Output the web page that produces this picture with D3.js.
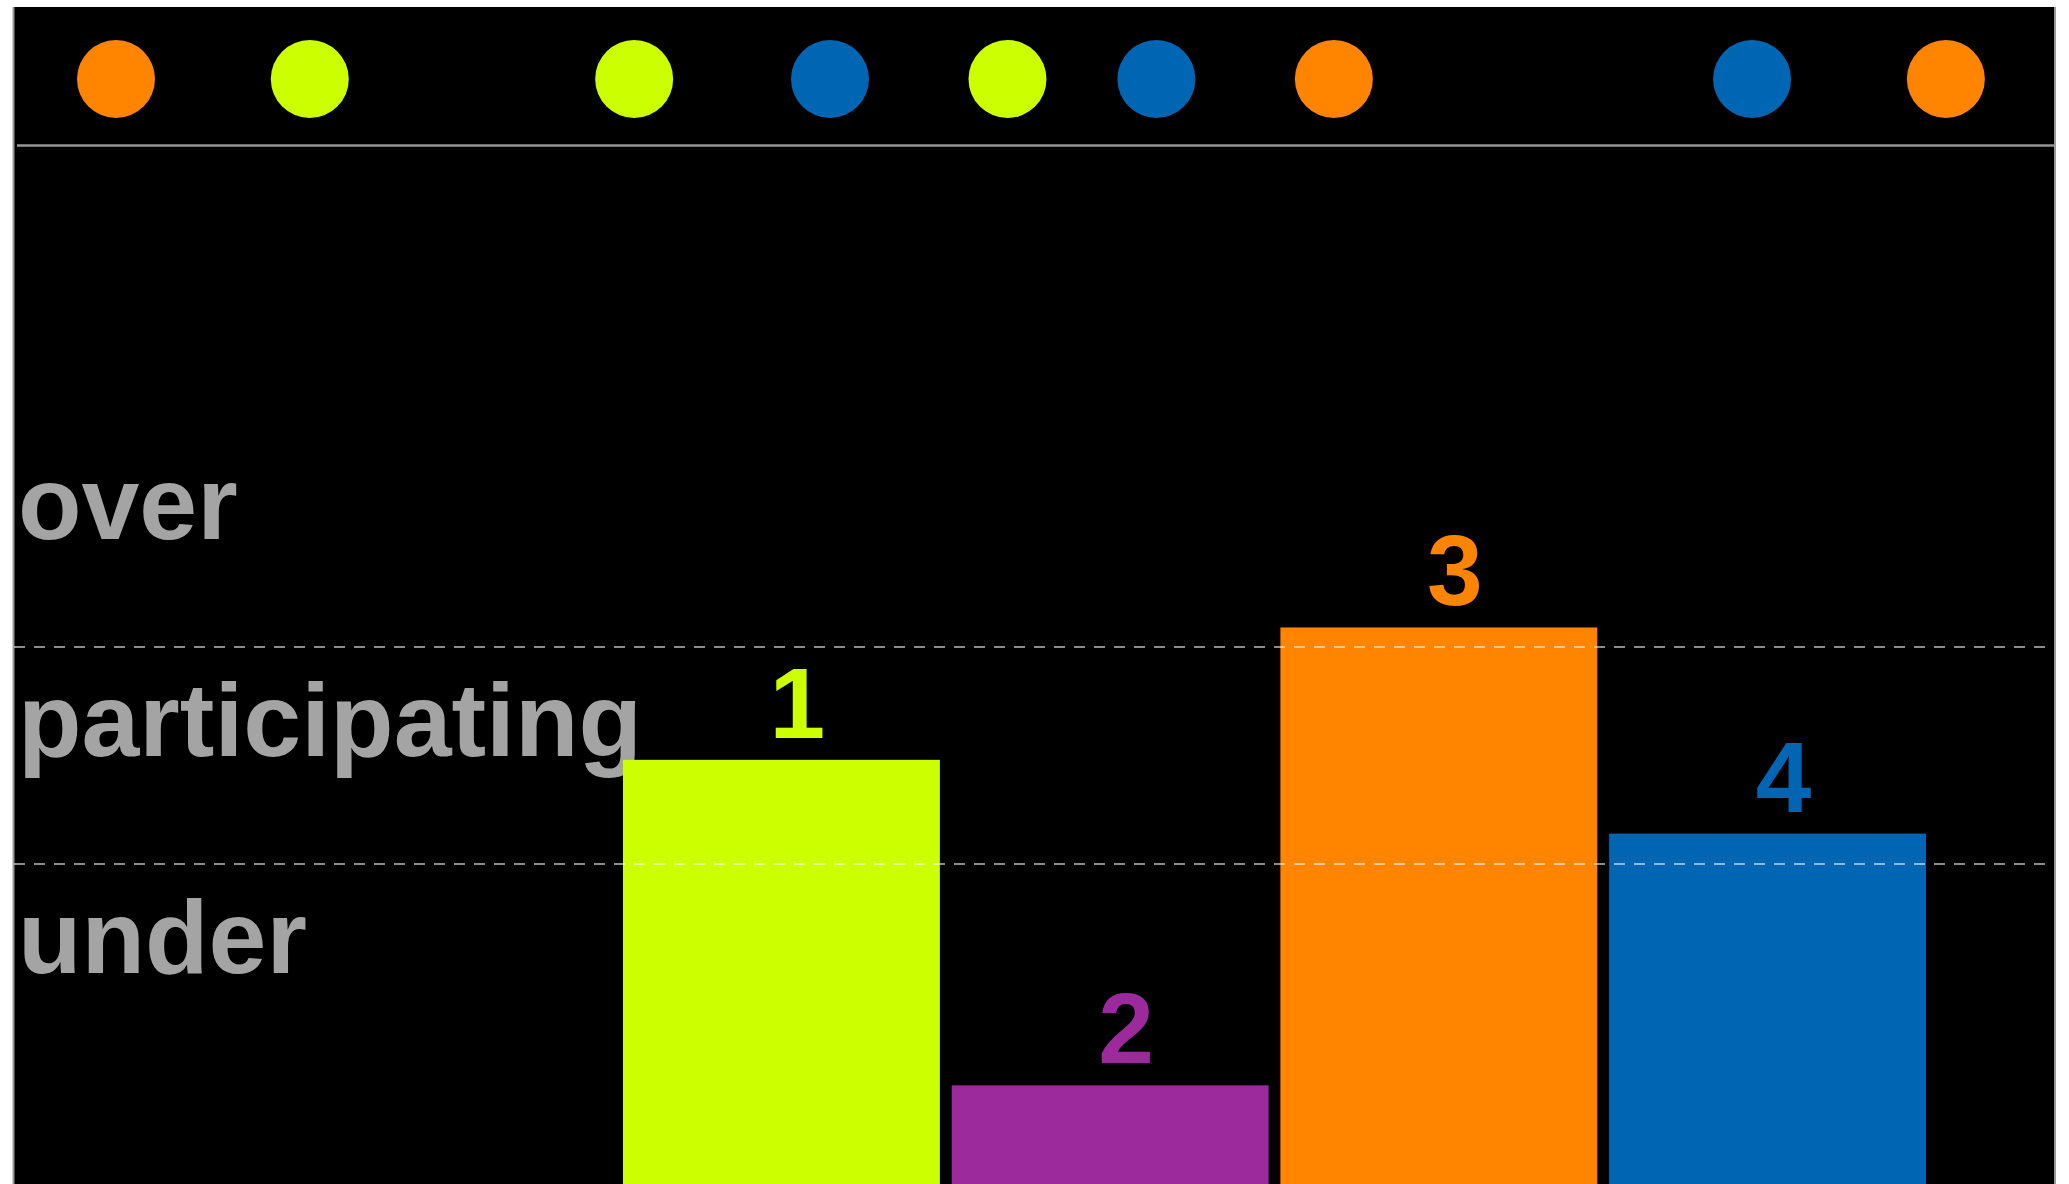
<!DOCTYPE html>
<html>
<head>
<meta charset="utf-8">
<script src="https://cdn.jsdelivr.net/npm/d3@7"></script>
<style>
  body { margin: 0; background: #fff; }
  svg { display: block; }
</style>
</head>
<body>
<svg id="chart"></svg>
<script>
// bars
const groups = ["1", "2", "3", "4"];
const groupValues = [2.48, 0.98, 3.09, 2.14];
const groupColors = ["#ccff00", "#9c2a9c", "#ff8500", "#0066b3"];

// dot strip along the top
const dotPositions = [5, 14.5, 30.4, 40, 48.7, 56, 64.7, 85.2, 94.7];
const dotGroups = ["3", "1", "1", "4", "1", "4", "3", "4", "3"];

// bands on the value axis
const bandLabels = ["under", "participating", "over"];
const bandCenters = [1.5, 2.5, 3.5];
const bandLimits = [2, 3];

const fullWidth = 2069;
const fullHeight = 1184;
const panel = {left: 14, right: 2054, top: 7};

const svg = d3.select('#chart')
              .attr('width', fullWidth)
              .attr('height', fullHeight);

// black panel with thin gray sides
svg.append('rect')
    .attr('x', panel.left)
    .attr('y', panel.top)
    .attr('width', panel.right - panel.left)
    .attr('height', fullHeight)
    .attr('fill', '#000');

svg.selectAll('.side')
  .data([panel.left - 0.5, panel.right + 1])
  .enter().append('line')
    .attr('class', 'side')
    .attr('x1', d => d).attr('x2', d => d)
    .attr('y1', panel.top).attr('y2', fullHeight)
    .attr('stroke', '#9a9a9a')
    .attr('stroke-width', 2);

const color = d3.scaleOrdinal().domain(groups).range(groupColors);

// top strip
const xDot = d3.scaleLinear().domain([0, 100]).range([panel.left, panel.right]);

svg.selectAll('.dot')
  .data(dotPositions.map((p, i) => ({pos: p, group: dotGroups[i]})))
  .enter().append('circle')
    .attr('class', 'dot')
    .attr('cx', d => xDot(d.pos))
    .attr('cy', 79)
    .attr('r', 39)
    .attr('fill', d => color(d.group));

svg.append('line')
    .attr('x1', panel.left + 3).attr('x2', panel.right)
    .attr('y1', 145.5).attr('y2', 145.5)
    .attr('stroke', '#969696')
    .attr('stroke-width', 2.5);

// bar chart
const xBar = d3.scaleBand().domain(groups).range([623, 1926]).paddingInner(0.036);
const yBar = d3.scaleLinear().domain([0, 4]).range([1298, 430]);

svg.selectAll('.band-label')
  .data(bandLabels)
  .enter().append('text')
    .attr('class', 'band-label')
    .attr('x', 18)
    .attr('y', (d, i) => yBar(bandCenters[i]))
    .attr('fill', '#a4a4a4')
    .style('font-family', '"Liberation Sans", Arial, sans-serif')
    .style('font-weight', 'bold')
    .style('font-size', '104px')
    .text(d => d);

const barData = groups.map((g, i) => ({group: g, value: groupValues[i]}));

svg.selectAll('.bar')
  .data(barData)
  .enter().append('rect')
    .attr('class', 'bar')
    .attr('x', d => xBar(d.group))
    .attr('y', d => yBar(d.value))
    .attr('width', xBar.bandwidth())
    .attr('height', d => yBar(0) - yBar(d.value))
    .attr('fill', d => color(d.group));

svg.selectAll('.bar-label')
  .data(barData)
  .enter().append('text')
    .attr('class', 'bar-label')
    .attr('x', d => xBar(d.group) + xBar.bandwidth() / 2 + 16)
    .attr('y', d => yBar(d.value) - 22)
    .attr('text-anchor', 'middle')
    .attr('fill', d => color(d.group))
    .style('font-family', '"Liberation Sans", Arial, sans-serif')
    .style('font-weight', 'bold')
    .style('font-size', '100px')
    .text(d => d.group);

// dashed band limits drawn over the bars
svg.selectAll('.limit')
  .data(bandLimits)
  .enter().append('line')
    .attr('class', 'limit')
    .attr('x1', panel.left).attr('x2', panel.right)
    .attr('y1', d => yBar(d)).attr('y2', d => yBar(d))
    .attr('stroke', 'rgba(255,255,255,0.55)')
    .attr('stroke-width', 2)
    .attr('stroke-dasharray', '11,9');
</script>
</body>
</html>
